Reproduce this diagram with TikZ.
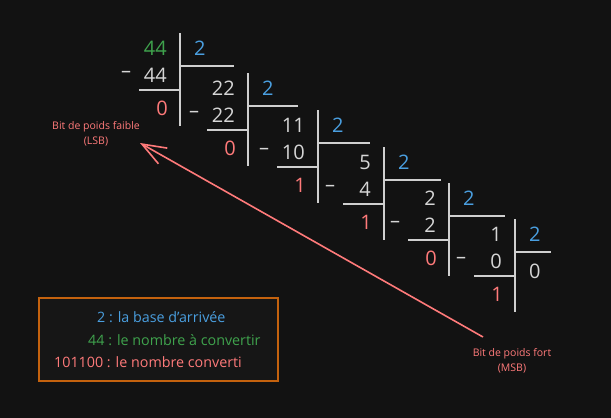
\documentclass[tikz,border=0pt]{standalone}
\usepackage{fontspec}
\setmainfont{Open Sans}
\usepackage{xcolor}
\usetikzlibrary{arrows.meta}
\definecolor{bgDark}{HTML}{121212}
\definecolor{boxDark}{HTML}{161616}
\definecolor{textGray}{HTML}{D6D6D6}
\definecolor{lineGray}{HTML}{CFCFCF}
\definecolor{numGreen}{HTML}{3FA34D}
\definecolor{baseBlue}{HTML}{4A9FE0}
\definecolor{bitRed}{HTML}{FF7A7A}
\definecolor{boxOrange}{HTML}{C4620E}

\begin{document}
\begin{tikzpicture}
[x=1pt,y=-1pt,
lineDecorate/.style={draw=lineGray,line width=1.6pt},
numDecorate/.style={inner sep=0pt,font=\fontsize{20}{24}\selectfont,text=textGray},
labelDecorate/.style={inner sep=0pt,align=center,text=bitRed,font=\fontsize{10.5}{15}\selectfont},
legendDecorate/.style={inner sep=0pt,anchor=base west,font=\fontsize{14.3}{18}\selectfont},
arrowDecorate/.style={-{Straight Barb[length=24pt,width=18pt]},draw=bitRed,line width=1.6pt}]

 \fill[bgDark] (0,0) rectangle (611,418);
 \useasboundingbox (0,0) rectangle (611,418);

 % divisions successives par 2
 \foreach \k/\xv/\yt/\dvd/\dcol/\sub/\rem/\len in {
1/180/33/44/numGreen/44/0/54,
2/248/73/22/textGray/22/0/50,
3/318/110/11/textGray/10/1/52,
4/384/147/5/textGray/4/1/57,
5/449/183/2/textGray/2/0/56,
6/515/219/1/textGray/0/1/36
 }
 {
          \coordinate (V\k) at (\xv,\yt);
          \coordinate (W\k) at (\xv,\yt+93);
          \coordinate (H\k) at (\xv+\len,\yt+33);
          \coordinate (U\k) at (\xv-41,\yt+57);
          \node (N\k) at (\xv-13,\yt+15) [numDecorate,anchor=east,text=\dcol] {\dvd};
          \node (B\k) at (\xv+14,\yt+15) [numDecorate,anchor=west,text=baseBlue] {2};
          \node (M\k) at (\xv-54,\yt+41) [numDecorate] {–};
          \node (S\k) at (\xv-13,\yt+42) [numDecorate,anchor=east] {\sub};
          \node (R\k) at (\xv-12,\yt+75) [numDecorate,anchor=east,text=bitRed] {\rem};
          \draw[lineDecorate] (V\k) -- (W\k);
          \draw[lineDecorate] (V\k |- H\k) -- (H\k);
          \draw[lineDecorate] (U\k) -- (U\k -| V\k);
 }

 \node (Q) at (529,271) [numDecorate,anchor=west] {0};

 % bits de poids faible et fort
 \node (LSB) at (96,134) [labelDecorate] {Bit de poids faible\\(LSB)};
 \node (MSB) at (512,361) [labelDecorate] {Bit de poids fort\\(MSB)};
 \coordinate (tail) at (483,337);
 \coordinate (tip) at (140,143);
 \draw[arrowDecorate] (tail) -- (tip);

 % legende
 \node (legend) at (158.5,339.5) [draw=boxOrange,fill=boxDark,line width=1.2pt,minimum width=239pt,minimum height=83pt] {};
 \node (L1) at (97,322) [legendDecorate,text=baseBlue] {2 : la base d'arrivée};
 \node (L2) at (88,345) [legendDecorate,text=numGreen] {44 : le nombre à convertir};
 \node (L3) at (54,367) [legendDecorate,text=bitRed] {101100 : le nombre converti};

\end{tikzpicture}
\end{document}
